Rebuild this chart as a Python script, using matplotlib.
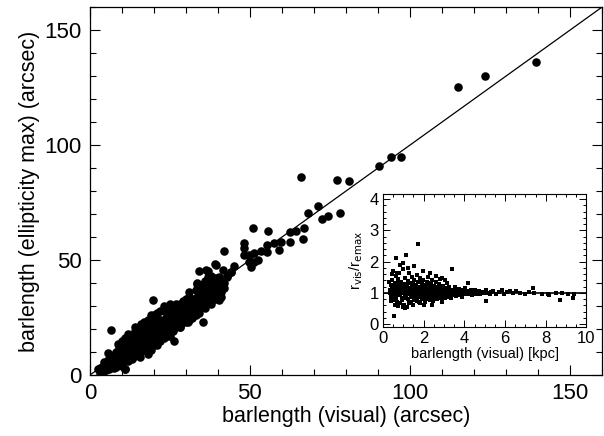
import numpy as np
import matplotlib
matplotlib.use("Agg")
from matplotlib import pyplot as plt
from matplotlib.ticker import MultipleLocator

plt.rcParams["font.family"] = ["Liberation Sans", "DejaVu Sans"]

# main panel: bar length from visual estimate vs ellipticity maximum (arcsec)
main_points = [
    (3, 1), (3.5, 2.5), (4, 1.5), (4.5, 3), (5, 2), (5, 4.5), (5.5, 3), (6, 5), (6, 2.5),
    (6.5, 7), (7, 4), (7, 6), (7.5, 8.5), (8, 3.5), (8, 7), (8, 10), (8.5, 5), (9, 8),
    (9, 12), (9.5, 6), (10, 9), (10, 11), (10, 4), (10.5, 13), (11, 7), (11, 10),
    (11.5, 14), (11, 2.5), (12, 9), (12, 12), (12.5, 16), (12, 6), (13, 11), (13, 14),
    (13.5, 8), (14, 13), (14, 17), (14.5, 10), (15, 12), (15, 15), (15, 20), (15.5, 8),
    (16, 14), (16, 18), (16.5, 11), (17, 16), (17, 21), (17.5, 13), (18, 15), (18, 19),
    (18, 9), (18.5, 22), (19, 17), (19, 13), (20, 18), (20, 21), (20, 15), (20.5, 25),
    (21, 19), (21, 13), (22, 20), (22, 17), (22, 24), (23, 22), (23, 19), (23.5, 28),
    (24, 21), (24, 17), (24.5, 25), (25, 23), (25, 20), (25.5, 29), (26, 24), (26, 19),
    (26.5, 21), (27, 26), (27, 23), (27.5, 30), (28, 25), (28, 21), (28.5, 28), (29, 27),
    (29, 23), (29.5, 31), (30, 28), (30, 25), (30.5, 23), (31, 30), (31, 27), (32, 29),
    (32, 33), (32, 25), (33, 31), (33, 28), (33.5, 40), (34, 32), (34, 29), (34.2, 45.3),
    (35, 33), (35, 30), (35.3, 23.2), (36, 34), (36, 31), (36.8, 45.3), (37, 36), (37, 33),
    (38, 37), (38, 34), (38.9, 39.9), (39, 36), (39.4, 47.8), (40, 38), (40, 35),
    (40.4, 32.6), (41, 36.2), (41, 39), (42, 40), (43, 43), (44, 45),
    (6, 4), (7, 5), (9, 10), (11, 12), (13, 12), (14, 15), (16, 16), (17, 19), (19, 20),
    (21, 22), (22, 22), (24, 26), (26, 27), (27, 28), (28, 31), (30, 32), (31, 34),
    (32, 30), (35, 36), (36, 38), (37, 40), (39, 42),
    (12, 18), (14, 21), (16, 22), (18, 24), (19, 26), (21, 27), (22, 28), (23, 30),
    (25, 31), (27, 31), (29, 32), (30, 33), (31, 36), (33, 37), (35, 39), (36, 41),
    (37, 42.8), (38, 43),
    (13, 7), (15, 9), (17, 11), (19, 11), (20, 13), (21, 15), (23, 16), (24, 18),
    (25, 17), (27, 21), (28, 21), (29, 23), (30, 23), (31, 24), (33, 26), (34, 27),
    (36, 29), (38, 31), (39, 33), (41, 34),
    (4.5, 5.5), (5.5, 6.5), (6.5, 5.5), (7.5, 6.5), (7.5, 3), (8.5, 8.5), (9.5, 9.5),
    (9.5, 12.5), (10.5, 7.5), (10.5, 10.5), (11.5, 8.5), (11.5, 11.5), (12.5, 10.5),
    (12.5, 13.5), (13.5, 12.5), (13.5, 15.5), (14.5, 13.5), (14.5, 17.5), (15.5, 14),
    (15.5, 17), (16.5, 15), (16.5, 19.5), (17.5, 17), (17.5, 20), (18.5, 16.5),
    (18.5, 19.5), (19.5, 18.5), (19.5, 22), (20.5, 17), (20.5, 20), (21.5, 21),
    (21.5, 24), (22.5, 19), (22.5, 22.5), (23.5, 21), (23.5, 24.5), (24.5, 22),
    (25.5, 24), (25.5, 26.5), (26.5, 25.5), (27.5, 24), (27.5, 27), (28.5, 26),
    (29.5, 25), (29.5, 28.5), (30.5, 27), (30.5, 30), (31.5, 29), (31.5, 32),
    (32.5, 27), (32.5, 31), (33.5, 30), (33.5, 34), (34.5, 31), (34.5, 35), (35.5, 32),
    (35.5, 37), (36.5, 35), (37.5, 35), (38.5, 39), (39.5, 38), (40.5, 40), (42, 38),
    (10, 15), (11, 16), (13, 17), (14, 19), (16, 20), (17, 23), (19, 24), (20, 26),
    (14, 10), (16, 12), (18, 12), (19, 14.5), (22, 15), (24, 19.5), (26, 22), (28, 23),
    (6.5, 19.4), (19.7, 32.6), (26.2, 14.9), (33.5, 39.6), (10.8, 2.6), (5.6, 9.5),
    (8.7, 13.5), (4, 4), (3, 3), (2.6, 2.4),
    (36.3, 45.7), (41.5, 45.7), (44.1, 44.9), (43.0, 42.8), (40.4, 42.8), (37.3, 42.8),
    (36.3, 38.4), (39.2, 48.1), (44.9, 47.4), (41.9, 53.9),
    (48.2, 57.3), (48.2, 55.1), (48.2, 52.2), (49.8, 52.2), (51.3, 52.9), (49.8, 49.3),
    (51.3, 49.3), (52.4, 50.0), (50.3, 47.1), (53.4, 53.9), (55.5, 53.6), (55.3, 56.5),
    (57.6, 57.3), (59.1, 54.3), (59.6, 58.0), (55.7, 62.6), (51.1, 63.8), (62.7, 62.3),
    (64.3, 62.7), (67.0, 63.8), (62.7, 58.0), (66.5, 59.0), (68.1, 70.6), (71.3, 73.5),
    (72.6, 67.7), (74.5, 69.3), (78.1, 70.6),
    (66.0, 86.1), (77.2, 84.8), (80.9, 84.3), (90.5, 91.0), (94.2, 94.9), (97.4, 94.9),
    (115.1, 125.2), (123.5, 130.3), (139.4, 136.2),
]
main_x = [p[0] for p in main_points]
main_y = [p[1] for p in main_points]

# inset: ratio of the two bar lengths vs visual bar length (kpc)
inset_points = [
    (0.35, 1.10), (0.40, 0.95), (0.42, 1.25), (0.45, 1.40), (0.48, 0.85), (0.50, 1.05),
    (0.52, 1.15), (0.55, 0.78), (0.58, 1.30), (0.60, 1.00), (0.62, 1.55), (0.65, 0.90),
    (0.68, 1.20), (0.70, 0.72), (0.72, 1.08), (0.75, 1.45), (0.78, 0.95), (0.80, 1.62),
    (0.82, 1.12), (0.85, 0.68), (0.88, 1.02), (0.90, 1.35), (0.92, 0.85), (0.95, 1.18),
    (0.98, 1.75), (1.00, 0.98), (1.02, 1.28), (1.05, 0.62), (1.08, 1.05), (1.10, 1.48),
    (1.12, 0.88), (1.15, 1.22), (1.18, 0.55), (1.20, 1.02), (1.22, 1.38), (1.25, 0.80),
    (1.28, 1.12), (1.30, 1.65), (1.32, 0.95), (1.35, 1.30), (1.38, 0.70), (1.40, 1.08),
    (1.42, 1.52), (1.45, 0.90), (1.48, 1.18), (1.50, 0.62), (1.52, 1.00), (1.55, 1.42),
    (1.58, 0.82), (1.60, 1.25), (1.62, 0.98), (1.65, 1.58), (1.68, 0.75), (1.70, 1.10),
    (1.72, 1.35), (1.75, 0.88), (1.78, 1.05), (1.80, 1.48), (1.82, 0.68), (1.85, 1.20),
    (1.88, 0.95), (1.90, 1.30), (1.92, 0.80), (1.95, 1.12), (1.98, 1.40), (2.00, 0.90),
    (2.02, 1.02), (2.05, 1.25), (2.08, 0.72), (2.10, 1.15), (2.12, 0.98), (2.15, 1.35),
    (2.18, 0.85), (2.20, 1.08), (2.22, 1.52), (2.25, 0.92), (2.28, 1.20), (2.30, 0.78),
    (2.32, 1.00), (2.35, 1.30), (2.38, 0.88), (2.40, 1.12), (2.42, 1.42), (2.45, 0.95),
    (2.48, 0.75), (2.50, 1.05), (2.52, 1.22), (2.55, 0.85), (2.58, 1.00), (2.60, 1.35),
    (2.62, 0.92), (2.65, 1.10), (2.68, 0.80), (2.70, 1.18), (2.72, 0.98), (2.75, 1.28),
    (2.78, 0.88), (2.80, 1.05), (2.82, 1.45), (2.85, 0.95), (2.88, 1.12), (2.90, 0.70),
    (2.92, 1.02), (2.95, 1.22), (2.98, 0.90), (3.00, 1.08), (3.05, 0.82), (3.08, 1.15),
    (3.10, 0.97), (3.15, 1.30), (3.18, 0.88), (3.20, 1.05), (3.25, 1.18), (3.28, 0.92),
    (3.30, 1.00), (3.35, 0.85), (3.40, 1.10), (3.45, 0.95), (3.50, 1.02), (3.55, 1.20),
    (3.60, 0.90), (3.65, 1.05), (3.70, 0.98), (3.75, 1.12), (3.80, 0.93), (3.85, 1.02),
    (3.90, 0.88), (3.95, 1.08), (4.00, 0.97), (4.05, 1.15), (4.10, 1.00), (4.18, 1.32),
    (4.20, 0.95), (4.25, 1.05), (4.30, 0.98), (4.35, 1.10), (4.40, 0.92), (4.45, 1.02),
    (4.50, 1.08), (4.55, 0.97), (4.60, 1.00), (4.70, 1.05), (4.75, 0.95), (4.85, 1.02),
    (4.95, 0.98), (5.06, 0.75), (5.05, 1.08), (5.15, 1.00), (5.25, 0.96), (5.40, 1.05),
    (5.55, 0.97), (5.70, 1.02), (5.85, 1.08), (5.95, 0.95), (6.10, 1.03), (6.25, 1.05),
    (6.40, 0.98), (6.55, 1.06), (6.75, 1.00), (7.00, 0.95), (7.20, 1.02), (7.35, 1.14),
    (7.40, 0.98), (7.80, 0.95), (8.10, 0.97), (8.15, 0.92), (8.50, 1.00), (8.69, 0.78),
    (8.80, 0.98), (9.10, 0.96), (9.34, 0.85), (9.40, 0.97),
    (1.70, 2.56), (0.55, 0.26), (3.38, 1.77), (0.65, 2.13), (1.13, 2.20), (0.98, 1.94),
    (0.45, 1.60), (0.30, 1.35), (0.50, 1.70),
    (0.38, 0.88), (0.44, 1.02), (0.55, 1.18), (0.63, 0.82), (0.70, 1.32), (0.76, 1.00),
    (0.84, 0.92), (0.90, 1.08), (0.96, 0.78), (1.03, 1.12), (1.06, 0.92), (1.14, 1.05),
    (1.19, 1.28), (1.24, 0.96), (1.27, 0.68), (1.33, 1.15), (1.36, 0.86), (1.43, 1.00),
    (1.47, 1.30), (1.53, 0.76), (1.57, 1.10), (1.63, 0.88), (1.66, 1.20), (1.73, 0.96),
    (1.77, 0.70), (1.83, 1.04), (1.87, 1.38), (1.93, 0.92), (1.97, 1.00), (2.03, 0.82),
    (2.07, 1.10), (2.13, 0.90), (2.17, 1.22), (2.23, 1.00), (2.27, 0.86), (2.33, 1.14),
    (2.37, 0.96), (2.43, 0.84), (2.47, 1.06), (2.53, 0.94), (2.57, 1.16), (2.63, 1.02),
    (2.67, 0.90), (2.73, 1.08), (2.77, 0.96), (2.83, 1.00), (2.87, 0.84), (2.93, 1.12),
    (2.97, 0.98), (3.03, 1.05), (3.12, 0.92), (3.22, 1.00), (3.32, 1.08), (3.42, 0.96),
    (3.52, 0.92), (3.62, 1.00), (3.72, 1.05), (3.88, 0.96), (0.60, 0.60), (0.75, 0.58),
    (1.10, 0.52), (1.00, 0.55), (2.00, 0.60), (2.40, 0.62), (0.40, 0.75), (1.55, 1.85),
    (1.95, 1.70), (2.30, 1.65), (2.60, 1.55), (2.90, 1.48), (3.05, 1.40), (0.85, 1.88),
    (1.25, 1.80), (0.70, 1.65),
    (0.36, 1.00), (0.46, 1.12), (0.57, 0.92), (0.66, 1.05), (0.74, 1.22), (0.86, 1.00),
    (0.93, 1.25), (1.04, 0.84), (1.16, 0.96), (1.23, 1.16), (1.34, 1.04), (1.44, 1.22),
    (1.54, 0.90), (1.64, 1.06), (1.74, 1.20), (1.84, 0.86), (1.94, 1.02), (2.04, 1.16),
    (2.14, 1.04), (2.24, 0.80), (2.34, 1.06), (2.44, 1.18), (2.54, 1.08), (2.64, 0.96),
    (2.74, 0.86), (2.84, 1.14), (2.94, 1.04), (3.14, 1.10), (3.34, 0.94), (3.54, 1.10),
    (3.74, 0.92), (3.94, 1.00), (4.14, 1.06), (4.48, 0.98), (4.90, 1.04), (5.32, 1.02),
]
inset_x = [p[0] for p in inset_points]
inset_y = [p[1] for p in inset_points]

fig = plt.figure(figsize=(6.04, 4.36), dpi=100)
ax = fig.add_axes([0.149, 0.140, 0.847, 0.843])
ax.scatter(main_x, main_y, s=38, c="black", linewidths=0, zorder=3)
ax.plot([0, 160], [0, 160], color="black", lw=0.9)
ax.set_xlim(0, 160)
ax.set_ylim(0, 160)
ax.xaxis.set_major_locator(MultipleLocator(50))
ax.xaxis.set_minor_locator(MultipleLocator(10))
ax.yaxis.set_major_locator(MultipleLocator(50))
ax.yaxis.set_minor_locator(MultipleLocator(10))
ax.tick_params(which="both", direction="in", top=True, right=True, labelsize=16, width=0.8)
ax.tick_params(which="major", length=7, pad=6)
ax.tick_params(which="minor", length=4)
ax.set_xlabel("barlength (visual) (arcsec)", fontsize=15.5, labelpad=1)
ax.set_ylabel("barlength (ellipticity max) (arcsec)", fontsize=15.5, labelpad=3)
for sp in ax.spines.values():
    sp.set_linewidth(0.9)

ins = fig.add_axes([0.634, 0.251, 0.337, 0.303])
ins.scatter(inset_x, inset_y, s=5, c="black", linewidths=0, marker="s")
ins.axhline(1.0, color="black", lw=1.2)
ins.set_xlim(0, 10)
ins.set_ylim(-0.08, 4.15)
ins.xaxis.set_major_locator(MultipleLocator(2))
ins.xaxis.set_minor_locator(MultipleLocator(0.5))
ins.yaxis.set_major_locator(MultipleLocator(1))
ins.yaxis.set_minor_locator(MultipleLocator(0.2))
ins.tick_params(which="both", direction="in", top=True, right=True, labelsize=12, width=0.7)
ins.tick_params(which="major", length=5, pad=3)
ins.tick_params(which="minor", length=2.5)
ins.set_xlabel("barlength (visual) [kpc]", fontsize=10.5, labelpad=1)
ins.set_ylabel(r"r$_{\rm vis}$/r$_{\rm emax}$", fontsize=10.5, labelpad=3)

fig.savefig("out.png", dpi=100)
